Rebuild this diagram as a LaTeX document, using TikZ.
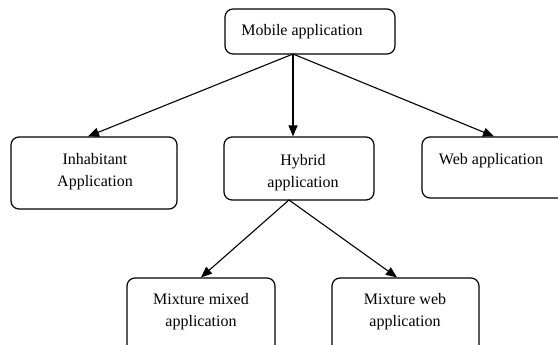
\documentclass[tikz,border=0pt]{standalone}
\usepackage{fontspec}
\setmainfont{Liberation Serif}
\usetikzlibrary{arrows.meta}
\tikzset{
    appbox/.style={draw, rounded corners=8pt, line width=1.2pt, inner sep=0pt},
    apptext/.style={align=center, font=\fontsize{16}{22}\selectfont},
    arr/.style={line width=1.1pt, -{Triangle[length=11pt,width=9pt]}}
}

\begin{document}
\begin{tikzpicture}[x=1pt, y=-1pt]
    \clip (0,0) rectangle (558,345);
    \fill[white] (0,0) rectangle (558,345);

    % boxes
    \node[appbox, minimum width=170pt, minimum height=45pt] (mobile) at (310,31.5) {};
    \node[appbox, minimum width=166pt, minimum height=72pt] (native) at (94,173) {};
    \node[appbox, minimum width=150pt, minimum height=63pt] (hybrid) at (299,168.5) {};
    \node[appbox, minimum width=144pt, minimum height=61pt] (web) at (494,167.5) {};
    \node[appbox, minimum width=148pt, minimum height=77pt] (mixmix) at (201,316.5) {};
    \node[appbox, minimum width=147pt, minimum height=77pt] (mixweb) at (405.5,316.5) {};

    % texts
    \node[apptext] (mobile-t) at (302,31.5) {Mobile application};
    \node[apptext] (native-t) at (95,172) {Inhabitant\\Application};
    \node[apptext] (hybrid-t) at (303,173) {Hybrid\\application};
    \node[apptext] (web-t) at (491,160.5) {Web application};
    \node[apptext] (mixmix-t) at (201,312) {Mixture mixed\\application};
    \node[apptext] (mixweb-t) at (405,312) {Mixture web\\application};

    % arrows
    \coordinate (mobfoot) at (293,54);
    \coordinate (hybfoot) at (289,200);
    \draw[arr] (mobfoot) -- (native.north -| 88,0);
    \draw[arr] (mobfoot) -- (hybrid.north -| mobfoot);
    \draw[arr] (mobfoot) -- (web.north);
    \draw[arr] (hybfoot) -- (mixmix.north);
    \draw[arr] (hybfoot) -- (mixweb.north -| 397,0);
\end{tikzpicture}
\end{document}
